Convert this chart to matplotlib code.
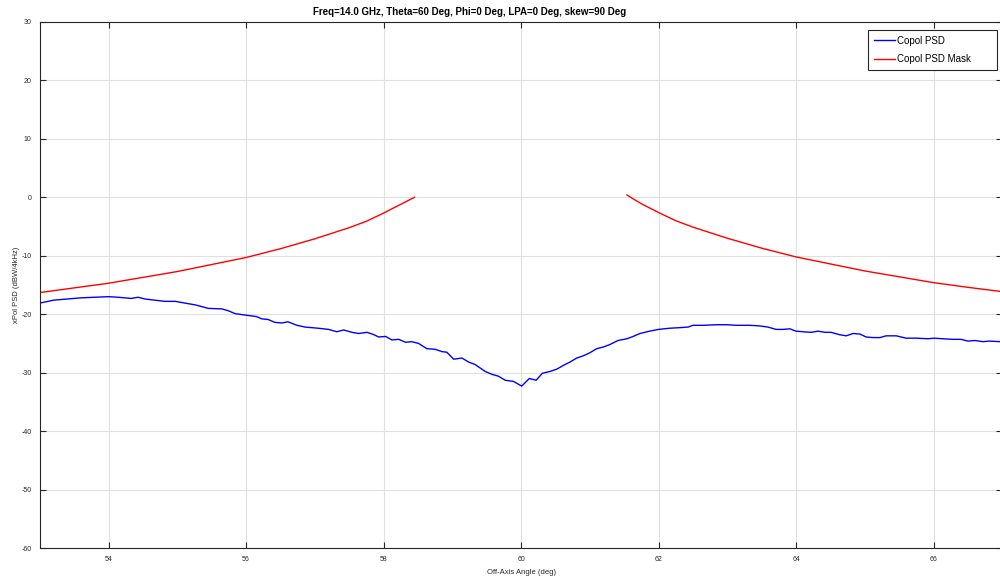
import numpy as np
import matplotlib
matplotlib.use('Agg')
import matplotlib.pyplot as plt

plt.rcParams['font.family'] = ['Liberation Sans', 'DejaVu Sans']
plt.rcParams['axes.unicode_minus'] = False

# Copol PSD (blue)
psd_x = [53.0, 53.2, 53.6, 54.0, 54.14, 54.33, 54.43, 54.53, 54.82, 54.97,
         55.16, 55.26, 55.45, 55.65, 55.74, 55.84, 56.02, 56.15, 56.23, 56.32,
         56.42, 56.52, 56.61, 56.74, 56.86, 57.05, 57.2, 57.32, 57.42, 57.54,
         57.64, 57.76, 57.86, 57.93, 58.03, 58.12, 58.22, 58.32, 58.41, 58.51,
         58.63, 58.75, 58.85, 58.92, 59.02, 59.14, 59.24, 59.33, 59.48, 59.58,
         59.67, 59.77, 59.89, 60.01, 60.12, 60.22, 60.31, 60.42, 60.52, 60.64,
         60.71, 60.81, 60.91, 61.0, 61.1, 61.2, 61.29, 61.41, 61.54, 61.61,
         61.73, 61.87, 62.0, 62.16, 62.31, 62.43, 62.5, 62.65, 62.84, 62.99,
         63.13, 63.33, 63.47, 63.59, 63.71, 63.81, 63.91, 64.0, 64.1, 64.22,
         64.32, 64.42, 64.51, 64.63, 64.73, 64.83, 64.93, 65.02, 65.12, 65.22,
         65.31, 65.46, 65.6, 65.75, 65.92, 66.01, 66.13, 66.28, 66.4, 66.5,
         66.6, 66.72, 66.81, 66.97]
psd_y = [-18.1, -17.6, -17.2, -17.0, -17.1, -17.3, -17.1, -17.4, -17.8, -17.8,
         -18.2, -18.4, -19.0, -19.1, -19.4, -19.9, -20.2, -20.4, -20.8, -20.9,
         -21.4, -21.5, -21.3, -21.9, -22.2, -22.4, -22.6, -23.0, -22.7, -23.1,
         -23.3, -23.1, -23.5, -23.9, -23.8, -24.4, -24.3, -24.8, -24.7, -25.0,
         -25.9, -26.0, -26.4, -26.5, -27.7, -27.5, -28.2, -28.6, -29.8, -30.3,
         -30.6, -31.3, -31.5, -32.3, -31.0, -31.3, -30.1, -29.8, -29.4, -28.6,
         -28.2, -27.5, -27.1, -26.6, -25.9, -25.6, -25.2, -24.5, -24.2, -23.9,
         -23.3, -22.9, -22.6, -22.4, -22.3, -22.2, -21.9, -21.9, -21.8, -21.8,
         -21.9, -21.9, -22.0, -22.2, -22.6, -22.6, -22.5, -22.9, -23.0, -23.1,
         -22.9, -23.1, -23.1, -23.5, -23.7, -23.3, -23.4, -23.9, -24.0, -24.0,
         -23.7, -23.7, -24.1, -24.1, -24.2, -24.1, -24.2, -24.3, -24.3, -24.6,
         -24.5, -24.7, -24.6, -24.7]

# Copol PSD Mask (red), two branches
mask_left_x = [53.0, 53.5, 54.0, 54.5, 55.0, 55.5, 56.0, 56.5, 57.0, 57.5,
               57.75, 58.0, 58.15, 58.3, 58.45]
mask_left_y = [-16.3, -15.5, -14.7, -13.7, -12.7, -11.5, -10.3, -8.8, -7.1, -5.2,
               -4.1, -2.7, -1.8, -0.9, 0.0]
mask_right_x = [61.54, 61.65, 61.75, 61.9, 62.0, 62.25, 62.5, 63.0, 63.5, 64.0,
                64.5, 65.0, 65.5, 66.0, 66.5, 66.97]
mask_right_y = [0.4, -0.4, -1.1, -2.0, -2.6, -4.0, -5.1, -7.0, -8.7, -10.2,
                -11.4, -12.6, -13.6, -14.6, -15.4, -16.1]

title = 'Freq=14.0 GHz, Theta=60 Deg, Phi=0 Deg, LPA=0 Deg, skew=90 Deg'
xticks = [54, 56, 58, 60, 62, 64, 66]
yticks = [-60, -50, -40, -30, -20, -10, 0, 10, 20, 30]

fig = plt.figure(figsize=(10, 5.78), dpi=100)
ax = fig.add_axes([0.0398, 0.0519, 0.9625, 0.9101])

ax.plot(psd_x, psd_y, color='#0000ff', lw=1.0, label='Copol PSD')
ax.plot(mask_left_x, mask_left_y, color='#ff0000', lw=1.0, label='Copol PSD Mask')
ax.plot(mask_right_x, mask_right_y, color='#ff0000', lw=1.0)

ax.set_xlim(53, 67)
ax.set_ylim(-60, 30)
ax.set_xticks(xticks)
ax.set_yticks(yticks)
ax.grid(True, color='#e0e0e0', lw=0.8)
ax.set_axisbelow(True)
ax.tick_params(direction='in', length=4, width=0.8, labelsize=5, colors='#262626',
               top=True, right=True, pad=6)
for s in ax.spines.values():
    s.set_color('#262626')
    s.set_linewidth(0.8)

ax.set_xlabel('Off-Axis Angle (deg)', fontsize=5.5, color='#262626', labelpad=4)
ax.set_ylabel('xPol PSD (dBW/4kHz)', fontsize=5.5, color='#262626', labelpad=1)
ax.set_title(title, fontsize=7, fontweight='bold', x=(470 - 40) / 962, pad=5)

# legend box stretched to the MATLAB-like width
leg = ax.legend(loc='upper right', bbox_to_anchor=(0.8605, 0.9087, 0.134, 0.0761),
                mode='expand', fontsize=7, fancybox=False, framealpha=1,
                edgecolor='#262626', handlelength=2.2, borderpad=0.6,
                labelspacing=0.85, handletextpad=0.15, borderaxespad=0)
leg.get_frame().set_linewidth(0.8)

fig.savefig('out.png', dpi=100)
